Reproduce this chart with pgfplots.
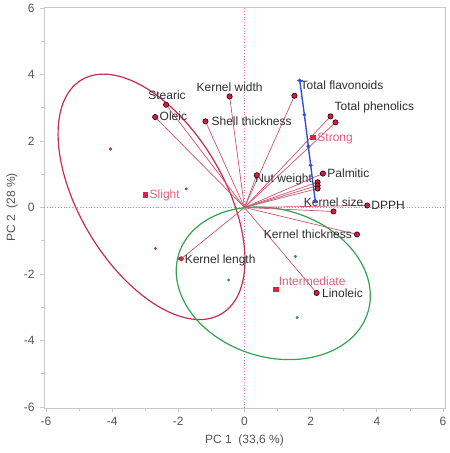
\documentclass[border=0pt]{standalone}
\usepackage{fontspec}
\setmainfont{Liberation Sans}
\usepackage{pgfplots}
\pgfplotsset{compat=1.18}
\definecolor{axgray}{RGB}{200,200,200}
\definecolor{lblgray}{RGB}{85,85,85}
\definecolor{txt}{RGB}{45,45,45}
\definecolor{vline}{RGB}{205,85,110}
\definecolor{varred}{RGB}{215,30,60}
\definecolor{vardark}{RGB}{50,0,12}
\definecolor{redell}{RGB}{195,45,80}
\definecolor{greenell}{RGB}{55,160,80}
\definecolor{blueline}{RGB}{50,80,215}
\definecolor{pinklbl}{RGB}{225,95,125}
\definecolor{centroid}{RGB}{228,30,70}
\definecolor{slightdot}{RGB}{170,50,90}
\definecolor{greendot}{RGB}{50,145,70}
\definecolor{refpink}{RGB}{232,120,145}
\begin{document}
\begin{tikzpicture}[font=\fontsize{12bp}{14bp}\selectfont]
\useasboundingbox (-44bp,-45bp) rectangle (406bp,408bp);
\begin{axis}[
  at={(0,0)}, anchor=south west,
  width=401bp, height=401bp, scale only axis,
  xmin=-6.06, xmax=6.06, ymin=-6.03, ymax=6.03,
  xtick={-6,-4,-2,0,2,4,6}, ytick={-6,-4,-2,0,2,4,6},
  minor xtick={-5,-3,-1,1,3,5}, minor ytick={-5,-3,-1,1,3,5},
  tick align=outside, xtick pos=bottom, ytick pos=left,
  major tick length=4bp, minor tick length=3bp,
  axis line style={draw=axgray, line width=0.8pt},
  every tick/.style={draw=axgray, line width=0.8pt},
  tick label style={text=lblgray, font=\fontsize{12bp}{14bp}\selectfont},
  xticklabel style={yshift=-2bp},
  yticklabel style={xshift=-2bp},
  /pgf/number format/assume math mode=true,
  xlabel={PC 1\ \ (33,6 \%)}, ylabel={PC 2\ \ (28 \%)},
  xlabel style={at={(axis description cs:0.5,-0.0798)}, anchor=center, text=lblgray},
  ylabel style={at={(axis description cs:-0.0798,0.5)}, anchor=center, text=lblgray},
]
% reference lines
\addplot[refpink, dotted, line width=0.8pt] coordinates {(-6.06,0) (6.06,0)};
\addplot[refpink, dotted, line width=0.8pt] coordinates {(0,-6.03) (0,6.03)};
% confidence ellipses
\draw[redell, line width=1.2pt, rotate around={120.9:(axis cs:-2.81,0.32)}] (axis cs:-2.81,0.32) ellipse [x radius=4.12, y radius=2.17];
\draw[greenell, line width=1.2pt, rotate around={-17:(axis cs:0.87,-2.28)}] (axis cs:0.87,-2.28) ellipse [x radius=2.99, y radius=2.22];
% loading vectors
\addplot[vline, line width=0.7pt] coordinates {(0,0) (-2.37,3.09)};
\addplot[vline, line width=0.7pt] coordinates {(0,0) (-2.70,2.72)};
\addplot[vline, line width=0.7pt] coordinates {(0,0) (-1.18,2.59)};
\addplot[vline, line width=0.7pt] coordinates {(0,0) (-0.45,3.34)};
\addplot[vline, line width=0.7pt] coordinates {(0,0) (1.51,3.36)};
\addplot[vline, line width=0.7pt] coordinates {(0,0) (2.60,2.74)};
\addplot[vline, line width=0.7pt] coordinates {(0,0) (2.75,2.56)};
\addplot[vline, line width=0.7pt] coordinates {(0,0) (2.37,1.02)};
\addplot[vline, line width=0.7pt] coordinates {(0,0) (0.37,0.97)};
\addplot[vline, line width=0.7pt] coordinates {(0,0) (2.21,0.76)};
\addplot[vline, line width=0.7pt] coordinates {(0,0) (2.21,0.66)};
\addplot[vline, line width=0.7pt] coordinates {(0,0) (2.21,0.57)};
\addplot[vline, line width=0.7pt] coordinates {(0,0) (3.71,0.06)};
\addplot[vline, line width=0.7pt] coordinates {(0,0) (2.69,-0.12)};
\addplot[vline, line width=0.7pt] coordinates {(0,0) (3.40,-0.81)};
\addplot[vline, line width=0.7pt] coordinates {(0,0) (2.18,-2.57)};
\addplot[vline, line width=0.7pt] coordinates {(0,0) (-1.91,-1.54)};
% supplementary axis
\addplot[blueline, line width=1.4pt, mark=*, mark size=1.1bp] coordinates {(1.67,3.82) (1.81,2.79) (1.93,1.84) (2.00,1.27) (2.14,0.19)};
\addplot[blueline, only marks, mark=-, mark size=3bp, mark options={line width=1pt}] coordinates {(1.67,3.82)};
% observations
\addplot[only marks, mark=*, mark size=1.3bp, slightdot] coordinates {(-4.05,1.76) (-1.76,0.56) (-2.69,-1.23)};
\addplot[only marks, mark=*, mark size=1.3bp, greendot] coordinates {(1.54,-1.47) (-0.48,-2.18) (1.59,-3.31) (-1.98,-1.54)};
% variable markers
\addplot[only marks, mark=*, mark size=2.6bp, mark options={fill=varred, draw=vardark, line width=0.7pt}] coordinates {
(-2.37,3.09) (-2.70,2.72) (-1.18,2.59) (-0.45,3.34) (1.51,3.36) (2.60,2.74) (2.75,2.56)
(2.37,1.02) (0.37,0.97) (2.21,0.76) (2.21,0.66) (2.21,0.57) (3.71,0.06) (2.69,-0.12)
(3.40,-0.81) (2.18,-2.57)};
\addplot[only marks, mark=*, mark size=2.2bp, mark options={fill=varred, draw=varred}] coordinates {(-1.91,-1.54)};
% group centroids
\addplot[only marks, mark=square*, mark size=2.2bp, centroid] coordinates {(-3.0,0.39) (2.06,2.11) (0.94,-2.46)};
% labels
\tikzset{lab/.style={inner sep=0pt, text height=8.6bp, text depth=0pt, text=txt}}
\node[lab, anchor=center] at (axis cs:-2.34,3.37) {Stearic};
\node[lab, anchor=west] at (axis cs:-2.57,2.74) {Oleic};
\node[lab, anchor=center] at (axis cs:-0.45,3.62) {Kernel width};
\node[lab, anchor=west] at (axis cs:-1.0,2.59) {Shell thickness};
\node[lab, anchor=west] at (axis cs:1.69,3.69) {Total flavonoids};
\node[lab, anchor=west] at (axis cs:2.72,3.06) {Total phenolics};
\node[lab, anchor=west, text=pinklbl] at (axis cs:2.20,2.11) {Strong};
\node[lab, anchor=west] at (axis cs:2.50,1.04) {Palmitic};
\node[lab, anchor=west] at (axis cs:0.32,0.87) {Nut weight};
\node[lab, anchor=west] at (axis cs:1.79,0.16) {Kernel size};
\node[lab, anchor=west] at (axis cs:3.83,0.06) {DPPH};
\node[lab, anchor=west] at (axis cs:0.58,-0.79) {Kernel thickness};
\node[lab, anchor=west] at (axis cs:2.34,-2.57) {Linoleic};
\node[lab, anchor=west, text=pinklbl] at (axis cs:1.03,-2.21) {Intermediate};
\node[lab, anchor=west] at (axis cs:-1.81,-1.54) {Kernel length};
\node[lab, anchor=west, text=pinklbl] at (axis cs:-2.87,0.41) {Slight};
\end{axis}
\end{tikzpicture}
\end{document}
